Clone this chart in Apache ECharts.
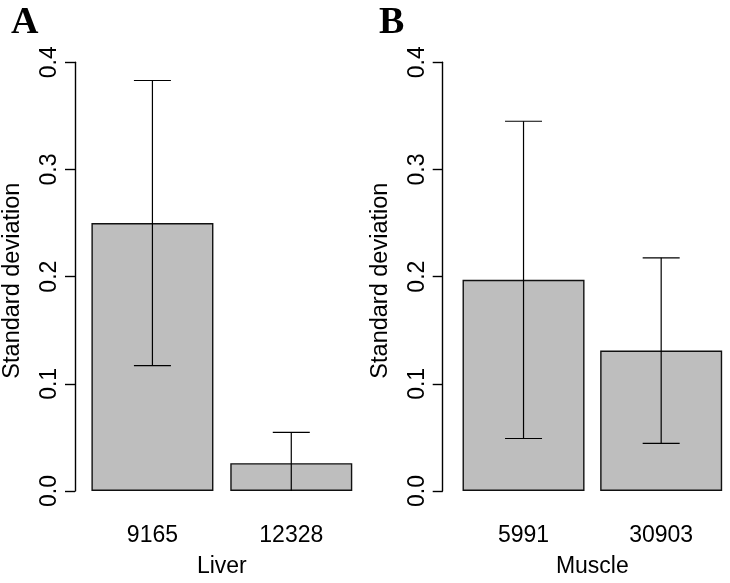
<!DOCTYPE html>
<html>
<head>
<meta charset="utf-8">
<script src="https://cdn.jsdelivr.net/npm/echarts@6/dist/echarts.min.js"></script>
<style>
html,body{margin:0;padding:0;background:#fff;}
#chart{width:730px;height:583px;}
</style>
</head>
<body>
<div id="chart"></div>
<script>
// ---- data ----
var liverCategories = ['9165', '12328'];
var liverValues = [0.250, 0.026];
var liverErrors = [0.133, 0.0287];
var muscleCategories = ['5991', '30903'];
var muscleValues = [0.197, 0.131];
var muscleErrors = [0.148, 0.0866];
var yTicks = [0.0, 0.1, 0.2, 0.3, 0.4];
var panelLabels = ['A', 'B'];
var xTitles = ['Liver', 'Muscle'];
var yTitle = 'Standard deviation';

var FONT = '"Liberation Sans", Arial, Helvetica, sans-serif';
var chart = echarts.init(document.getElementById('chart'), null, {renderer: 'canvas'});

function errRender(params, api) {
  var i = api.value(0), v = api.value(1), e = api.value(2);
  var lo = v - e, hi = v + e;
  var loClamped = Math.max(lo, yTicks[0]);
  var pTop = api.coord([i, hi]);
  var pBot = api.coord([i, loClamped]);
  var half = 18.5;
  var st = {stroke: '#000', lineWidth: 1.2};
  var children = [
    {type: 'line', shape: {x1: pTop[0], y1: pTop[1], x2: pBot[0], y2: pBot[1]}, style: st},
    {type: 'line', shape: {x1: pTop[0] - half, y1: pTop[1], x2: pTop[0] + half, y2: pTop[1]}, style: st}
  ];
  if (lo >= yTicks[0]) {
    children.push({type: 'line', shape: {x1: pBot[0] - half, y1: pBot[1], x2: pBot[0] + half, y2: pBot[1]}, style: st});
  }
  return {type: 'group', children: children};
}

function yAxisOpt(gridIndex, offset) {
  return {
    type: 'value', gridIndex: gridIndex, min: yTicks[0], max: yTicks[yTicks.length - 1], interval: 0.1,
    offset: offset,
    axisLine: {show: true, lineStyle: {color: '#000', width: 1.4}},
    axisTick: {show: true, length: 10, lineStyle: {color: '#000', width: 1.4}},
    splitLine: {show: false},
    axisLabel: {rotate: 90, margin: 14, color: '#000', fontSize: 23, fontFamily: FONT,
      formatter: function (v) { return v.toFixed(1); }},
    name: yTitle, nameLocation: 'middle', nameRotate: 90, nameGap: 50,
    nameTextStyle: {color: '#000', fontSize: 23.5, fontFamily: FONT, padding: [0, 8, 0, 0]}
  };
}

function xAxisOpt(gridIndex, cats, title) {
  return {
    type: 'category', gridIndex: gridIndex, data: cats, boundaryGap: true,
    axisLine: {show: false}, axisTick: {show: false}, splitLine: {show: false},
    axisLabel: {margin: 33, color: '#000', fontSize: 23, fontFamily: FONT},
    name: title, nameLocation: 'middle', nameGap: 64,
    nameTextStyle: {color: '#000', fontSize: 23, fontFamily: FONT}
  };
}

function barSeries(idx, vals) {
  return {
    type: 'bar', xAxisIndex: idx, yAxisIndex: idx, data: vals, barWidth: 122,
    itemStyle: {color: '#bebebe', borderColor: '#111', borderWidth: 1.4},
    silent: true, animation: false
  };
}

function errSeries(idx, vals, errs) {
  return {
    type: 'custom', xAxisIndex: idx, yAxisIndex: idx, z: 5,
    data: vals.map(function (v, i) { return [i, v, errs[i]]; }),
    renderItem: errRender, animation: false, silent: true
  };
}

var option = {
  backgroundColor: '#fff',
  animation: false,
  grid: [
    {left: 82, top: 62.3, width: 278.7, height: 434},
    {left: 454.7, top: 62.3, width: 278.7, height: 434}
  ],
  xAxis: [xAxisOpt(0, liverCategories, xTitles[0]), xAxisOpt(1, muscleCategories, xTitles[1])],
  yAxis: [yAxisOpt(0, 8), yAxisOpt(1, 12)],
  series: [
    barSeries(0, liverValues), errSeries(0, liverValues, liverErrors),
    barSeries(1, muscleValues), errSeries(1, muscleValues, muscleErrors)
  ],
  graphic: [
    {type: 'text', left: 11, top: 4, style: {text: panelLabels[0], font: 'bold 38px "Liberation Serif", "Times New Roman", serif', fill: '#000'}},
    {type: 'text', left: 379, top: 4, style: {text: panelLabels[1], font: 'bold 38px "Liberation Serif", "Times New Roman", serif', fill: '#000'}}
  ]
};
chart.setOption(option);
</script>
</body>
</html>
